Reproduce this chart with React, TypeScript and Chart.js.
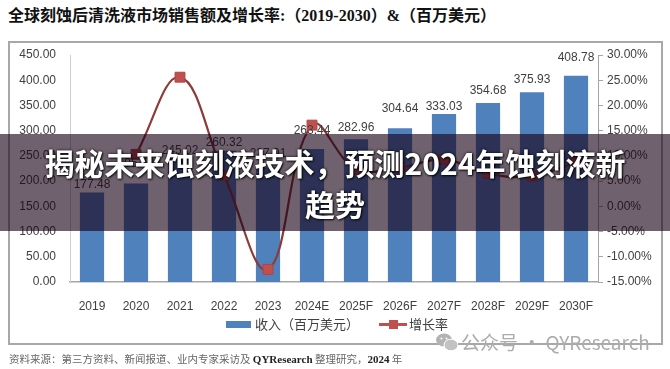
import React, { useEffect, useRef } from 'react';
import { Chart, registerables } from 'chart.js';

Chart.register(...registerables);

const categories = ['2019', '2020', '2021', '2022', '2023', '2024E', '2025F', '2026F', '2027F', '2028F', '2029F', '2030F'];
const revenue = [177.48, 195.42, 245.02, 260.32, 227.01, 263.44, 282.96, 304.64, 333.03, 354.68, 375.93, 408.78];
const growth: (number | null)[] = [null, 10.3, 25.6, 6.2, -12.5, 16.1, 7.4, 7.7, 9.3, 6.5, 6.0, 8.7];
const leftAxis = { min: 0, max: 450, step: 50 };
const rightAxis = { min: -15, max: 30, step: 5 };
const labelLift = [8, 20, 8, 8, 14, 18, 12, 20, 7, 12, 13, 18];

const titleText = '全球刻蚀后清洗液市场销售额及增长率:（2019-2030）&（百万美元）';
const bannerLine1 = '揭秘未来蚀刻液技术，预测2024年蚀刻液新';
const bannerLine2 = '趋势';
const seriesRevenue = '收入（百万美元）';
const seriesGrowth = '增长率';

export default function App() {
  const ref = useRef<HTMLCanvasElement>(null);

  useEffect(() => {
    if (!ref.current) return;
    const barLabels = {
      id: 'barLabels',
      afterDatasetsDraw(chart: any) {
        const meta = chart.getDatasetMeta(0);
        const ctx = chart.ctx;
        ctx.save();
        ctx.font = '12px "Liberation Sans"';
        ctx.fillStyle = '#404040';
        ctx.textAlign = 'center';
        ctx.textBaseline = 'middle';
        meta.data.forEach((el: any, i: number) => {
          ctx.fillText(revenue[i].toFixed(2), el.x, el.y - labelLift[i]);
        });
        ctx.restore();
      },
    };
    const chart = new Chart(ref.current, {
      data: {
        labels: categories,
        datasets: [
          {
            type: 'bar',
            label: seriesRevenue,
            data: revenue,
            yAxisID: 'y',
            backgroundColor: '#4f81bd',
            barPercentage: 0.55,
            categoryPercentage: 1,
            order: 1,
          },
          {
            type: 'line',
            label: seriesGrowth,
            data: growth,
            yAxisID: 'y1',
            borderColor: '#8e3a38',
            borderWidth: 2.2,
            tension: 0.4,
            pointStyle: 'rect',
            pointRadius: 7,
            pointBackgroundColor: '#c0504d',
            pointBorderColor: '#b04542',
            pointBorderWidth: 1,
            order: 0,
          },
        ] as any,
      },
      options: {
        responsive: false,
        animation: false,
        devicePixelRatio: 1,
        layout: { padding: { left: 8, right: 10, top: 55, bottom: 57 } },
        plugins: { legend: { display: false }, tooltip: { enabled: false } },
        scales: {
          x: {
            grid: { display: false },
            border: { display: true, color: '#a6a6a6', width: 1.5 },
            ticks: { color: '#404040', font: { size: 12, family: 'Liberation Sans' }, padding: 9, autoSkip: false, maxRotation: 0 },
            afterFit: (s: any) => { s.height = 30; },
          },
          y: {
            position: 'left',
            min: leftAxis.min,
            max: leftAxis.max,
            grid: { display: false, drawTicks: false },
            border: { display: true, color: '#cfcfcf', width: 1 },
            ticks: {
              stepSize: leftAxis.step,
              color: '#404040',
              font: { size: 12, family: 'Liberation Sans' },
              padding: 14,
              callback: (v: any) => Number(v).toFixed(2),
            },
            afterFit: (s: any) => { s.width = 62; },
          },
          y1: {
            position: 'right',
            min: rightAxis.min,
            max: rightAxis.max,
            grid: { display: true, drawOnChartArea: false, drawTicks: true, tickLength: 5, color: '#a6a6a6' },
            border: { display: true, color: '#a6a6a6', width: 1 },
            ticks: {
              stepSize: rightAxis.step,
              color: '#404040',
              font: { size: 12, family: 'Liberation Sans' },
              padding: 4,
              callback: (v: any) => Number(v).toFixed(2) + '%',
            },
            afterFit: (s: any) => { s.width = 62; },
          },
        },
      } as any,
      plugins: [barLabels],
    });
    return () => chart.destroy();
  }, []);

  return (
    <div style={{ position: 'fixed', left: 0, top: 0, width: 670, height: 369, overflow: 'hidden', background: '#fff' }}>
      <div style={{ position: 'absolute', left: 8, top: 6, fontSize: 16, fontWeight: 'bold', fontFamily: '"Liberation Serif","Noto Sans CJK SC"', color: '#111', whiteSpace: 'nowrap', lineHeight: '20px' }}>
        {titleText}
      </div>
      <div style={{ position: 'absolute', left: 8, top: 41, width: 651, height: 300, border: '2px solid #a8a8a8' }} />
      <canvas ref={ref} width={670} height={369} style={{ position: 'absolute', left: 0, top: 0, width: 670, height: 369 }} />
      <div style={{ position: 'absolute', left: 226, top: 321, width: 25, height: 7, background: '#4f81bd' }} />
      <div style={{ position: 'absolute', left: 255, top: 315, fontSize: 13, lineHeight: '18px', fontFamily: '"Noto Sans CJK SC"', color: '#404040', whiteSpace: 'nowrap' }}>{seriesRevenue}</div>
      <div style={{ position: 'absolute', left: 379, top: 323, width: 28, height: 2.5, background: '#c0504d' }} />
      <div style={{ position: 'absolute', left: 389, top: 320, width: 9, height: 9, background: '#c0504d' }} />
      <div style={{ position: 'absolute', left: 409, top: 315, fontSize: 13, lineHeight: '18px', fontFamily: '"Noto Sans CJK SC"', color: '#404040', whiteSpace: 'nowrap' }}>{seriesGrowth}</div>
      <svg style={{ position: 'absolute', left: 436, top: 333 }} width={22} height={19} viewBox="0 0 22 19">
        <ellipse cx={8} cy={7} rx={8} ry={6.5} fill="#b3b3b3" />
        <ellipse cx={15} cy={12} rx={7} ry={5.8} fill="#c2c2c2" stroke="#fff" strokeWidth={1} />
        <circle cx={5.5} cy={5.5} r={1} fill="#fff" />
        <circle cx={10.5} cy={5.5} r={1} fill="#fff" />
      </svg>
      <div style={{ position: 'absolute', left: 461, top: 330, fontSize: 19, lineHeight: '24px', fontFamily: '"Noto Sans CJK SC"', color: '#acacac', whiteSpace: 'nowrap' }}>公众号 · QYResearch</div>
      <div style={{ position: 'absolute', left: 9, top: 352, fontSize: 10.5, lineHeight: '14px', fontFamily: '"Noto Sans CJK SC"', color: '#666', whiteSpace: 'nowrap' }}>
        资料来源：第三方资料、新闻报道、业内专家采访及 <b style={{ fontFamily: '"Liberation Serif"', color: '#222', fontSize: 11 }}>QYResearch</b> 整理研究，<b style={{ fontFamily: '"Liberation Serif"', color: '#222', fontSize: 11 }}>2024</b> 年
      </div>
      <div style={{ position: 'absolute', left: 0, top: 134, width: 670, height: 97, background: 'rgba(22,0,21,0.62)', display: 'flex', alignItems: 'center', justifyContent: 'center' }}>
        <div style={{ color: '#fff', fontWeight: 'bold', fontSize: 30, lineHeight: '41px', textAlign: 'center', fontFamily: '"Noto Sans CJK SC"', textShadow: '0 0 3px rgba(0,0,0,0.9), 1px 1px 2px rgba(0,0,0,0.8)', whiteSpace: 'nowrap' }}>
          {bannerLine1}<br />{bannerLine2}
        </div>
      </div>
    </div>
  );
}
